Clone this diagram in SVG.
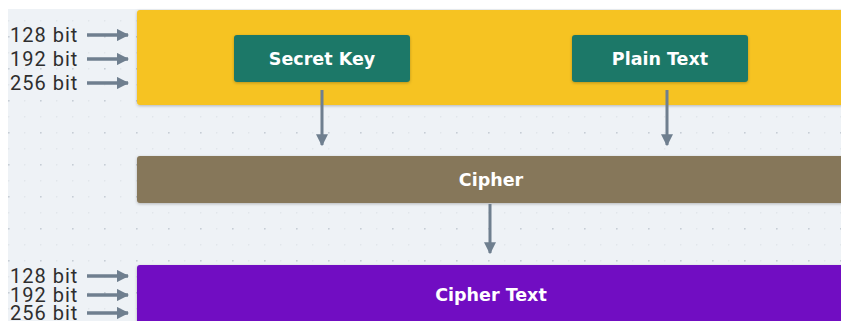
<svg xmlns="http://www.w3.org/2000/svg" width="841" height="321" viewBox="0 0 841 321">
<defs>
<pattern id="dots" x="8" y="4" width="32" height="32" patternUnits="userSpaceOnUse">
<circle cx="0.8" cy="0.8" r="0.9" fill="#c5ccd4"/>
<circle cx="16.8" cy="0.8" r="0.6" fill="#d2d8de"/>
<circle cx="0.8" cy="16.8" r="0.6" fill="#d2d8de"/>
<circle cx="16.8" cy="16.8" r="0.6" fill="#d2d8de"/>
</pattern>
<filter id="sh" x="-5%" y="-20%" width="110%" height="140%">
<feDropShadow dx="0" dy="1" stdDeviation="1.5" flood-color="#000" flood-opacity="0.25"/>
</filter>
<marker id="ah" viewBox="0 0 10 10" refX="9" refY="5" markerWidth="4" markerHeight="4" markerUnits="strokeWidth" orient="auto">
<path d="M0,0 L10,5 L0,10 Z" fill="#6f7f8f"/>
</marker>
<marker id="ahs" viewBox="0 0 10 10" refX="9" refY="5" markerWidth="3.6" markerHeight="3.6" markerUnits="strokeWidth" orient="auto">
<path d="M0,0 L10,5 L0,10 Z" fill="#6f7f8f"/>
</marker>
</defs>
<style>
.lbl{font-family:Roboto,"Liberation Sans",sans-serif;font-size:20px;font-weight:400;letter-spacing:1px;fill:#2e2e2e}
.nt{font-family:"DejaVu Sans","Liberation Sans",sans-serif;font-size:17.5px;font-weight:bold;fill:#ffffff;text-anchor:middle;dominant-baseline:central}
.conn{stroke:#6f7f8f;stroke-width:3;fill:none}
.side{stroke:#6f7f8f;stroke-width:3.4;fill:none}
</style>
<rect x="0" y="0" width="841" height="321" fill="#ffffff"/>
<rect x="8" y="9" width="833" height="312" fill="#eef2f6"/>
<rect x="8" y="9" width="833" height="312" fill="url(#dots)"/>

<g id="key-size-bar">
<rect x="137" y="10" width="710" height="95" rx="3" fill="#f6c323" filter="url(#sh)"/>
</g>
<g id="secret-key">
<rect x="234" y="35" width="176" height="47" rx="3" fill="#1e7867" filter="url(#sh)"/>
<text class="nt" x="322" y="59">Secret Key</text>
</g>
<g id="plain-text">
<rect x="572" y="35" width="176" height="47" rx="3" fill="#1e7867" filter="url(#sh)"/>
<text class="nt" x="660" y="59">Plain Text</text>
</g>
<g id="cipher">
<rect x="137" y="156" width="710" height="47" rx="3" fill="#86775a" filter="url(#sh)"/>
<text class="nt" x="491" y="180">Cipher</text>
</g>
<g id="cipher-text">
<rect x="137" y="265" width="710" height="70" rx="3" fill="#7110c2" filter="url(#sh)"/>
<text class="nt" x="491" y="295">Cipher Text</text>
</g>

<g id="labels-top">
<text class="lbl" x="10" y="42">128 bit</text>
<text class="lbl" x="10" y="66">192 bit</text>
<text class="lbl" x="10" y="90">256 bit</text>
</g>
<g id="labels-bottom">
<text class="lbl" x="10" y="283">128 bit</text>
<text class="lbl" x="10" y="302">192 bit</text>
<text class="lbl" x="10" y="320">256 bit</text>
</g>

<g id="connectors">
<line class="conn" x1="322" y1="90" x2="322" y2="145" marker-end="url(#ah)"/>
<line class="conn" x1="667" y1="90" x2="667" y2="145" marker-end="url(#ah)"/>
<line class="conn" x1="490" y1="204" x2="490" y2="253" marker-end="url(#ah)"/>
<line class="side" x1="87" y1="35" x2="128" y2="35" marker-end="url(#ahs)"/>
<line class="side" x1="87" y1="59" x2="128" y2="59" marker-end="url(#ahs)"/>
<line class="side" x1="87" y1="83" x2="128" y2="83" marker-end="url(#ahs)"/>
<line class="side" x1="87" y1="276" x2="128" y2="276" marker-end="url(#ahs)"/>
<line class="side" x1="87" y1="295" x2="128" y2="295" marker-end="url(#ahs)"/>
<line class="side" x1="87" y1="313" x2="128" y2="313" marker-end="url(#ahs)"/>
</g>
</svg>
